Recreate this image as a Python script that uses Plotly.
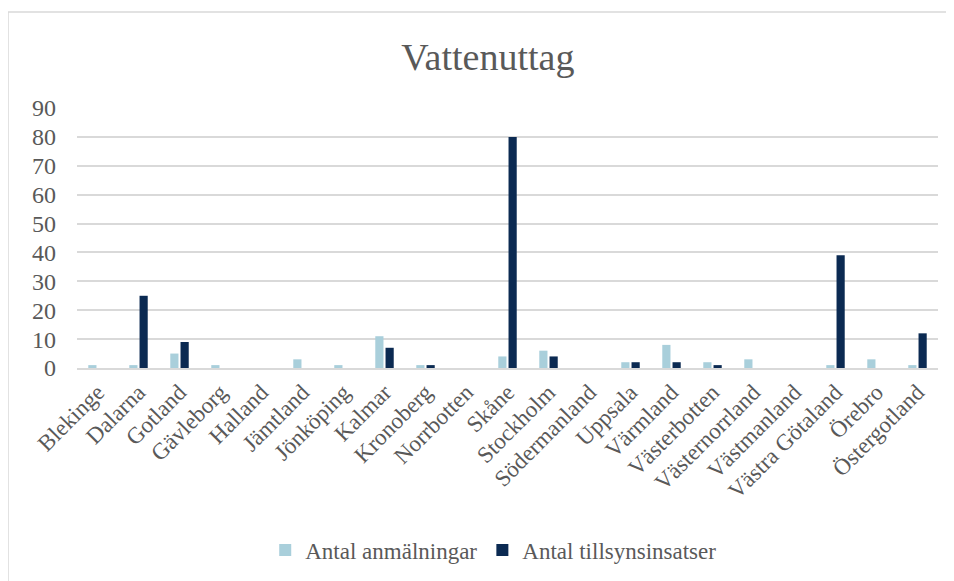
import plotly.graph_objects as go

# data
lan = [
    "Blekinge", "Dalarna", "Gotland", "Gävleborg", "Halland", "Jämtland",
    "Jönköping", "Kalmar", "Kronoberg", "Norrbotten", "Skåne", "Stockholm",
    "Södermanland", "Uppsala", "Värmland", "Västerbotten", "Västernorrland",
    "Västmanland", "Västra Götaland", "Örebro", "Östergotland",
]
antal_anmalningar = [1, 1, 5, 1, 0, 3, 1, 11, 1, 0, 4, 6, 0, 2, 8, 2, 3, 0, 1, 3, 1]
antal_tillsynsinsatser = [0, 25, 9, 0, 0, 0, 0, 7, 1, 0, 80, 4, 0, 2, 2, 1, 0, 0, 39, 0, 12]
y_ticks = [0, 10, 20, 30, 40, 50, 60, 70, 80, 90]

FONT = "Liberation Serif, Times New Roman, serif"
GREY = "#595959"
LINE = "#D9D9D9"

fig = go.Figure()
fig.add_trace(go.Bar(x=lan, y=antal_anmalningar, name="Antal anmälningar",
                     marker=dict(color="#A9CFDB", line=dict(width=0))))
fig.add_trace(go.Bar(x=lan, y=antal_tillsynsinsatser, name="Antal tillsynsinsatser",
                     marker=dict(color="#0B2A52", line=dict(width=0))))

# page has an 8px body margin, so layout coords are screen coords minus 8
# plot area on screen: x 77..938, y 108..368
fig.update_layout(
    width=954, height=581,
    margin=dict(l=69, r=24, t=100, b=221),
    paper_bgcolor="white", plot_bgcolor="white",
    font=dict(family=FONT, color=GREY, size=23),
    title=dict(text="Vattenuttag", x=0.503, xanchor="center", y=0.916, yanchor="middle",
               font=dict(family=FONT, size=38, color=GREY)),
    barmode="group", bargap=0.5, bargroupgap=0.2,
    showlegend=True,
    legend=dict(orientation="h", x=0.484, xanchor="center", y=-0.70, yanchor="middle",
                font=dict(family=FONT, size=23, color=GREY), itemwidth=30,
                traceorder="normal"),
    xaxis=dict(tickangle=-45, showgrid=False, showline=True, linecolor=LINE, linewidth=1.5,
               ticks="", automargin=False, tickfont=dict(family=FONT, size=23, color=GREY)),
    yaxis=dict(range=[0, 90], tickvals=y_ticks, showgrid=True, gridcolor=LINE, gridwidth=1.5,
               zeroline=False, showline=False, ticks="", ticklabelstandoff=20, automargin=False,
               tickfont=dict(family=FONT, size=24, color=GREY)),
)

# chart-area frame: only the left and top edges are in view
frame_x = (0 - 69) / 861
frame_top = (360 - 4) / 260
fig.add_shape(type="line", xref="paper", yref="paper",
              x0=frame_x, x1=1.3, y0=frame_top, y1=frame_top,
              line=dict(color=LINE, width=1.5), layer="below")
fig.add_shape(type="line", xref="paper", yref="paper",
              x0=frame_x, x1=frame_x, y0=-1.5, y1=frame_top,
              line=dict(color=LINE, width=1.5), layer="below")

fig.write_html("out.html")
